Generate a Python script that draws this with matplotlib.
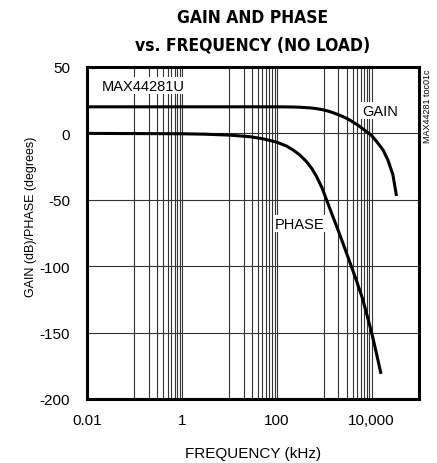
import matplotlib
matplotlib.use('Agg')
from matplotlib import pyplot as plt

plt.rcParams['font.family'] = ['Liberation Sans', 'DejaVu Sans']
plt.rcParams['axes.unicode_minus'] = False

gain_freq = [0.01, 100, 200, 300, 500, 700, 930, 1200, 1530, 2000, 2500, 3470, 5000,
             7800, 9800, 13000, 17400, 22000, 28000, 33000]
gain_db = [20, 20, 19.9, 19.7, 19.2, 18.6, 17.8, 16.8, 15.6, 14, 12.6, 10, 6.5,
           1.3, -1.3, -6.5, -12.5, -20, -31, -46]

phase_freq = [0.01, 1, 3, 10, 27, 50, 98, 160, 220, 300, 417, 550, 690, 900, 1120,
              1500, 1830, 2500, 3470, 4800, 6500, 8000, 10000, 12500, 15500]
phase_deg = [0, -0.3, -0.6, -1.3, -2.5, -4, -6.5, -9.5, -12.5, -16, -21, -26.5, -32.5, -41, -50,
             -62, -70, -83, -97, -111, -125, -137, -150, -165, -180]

xticks = [0.01, 1, 100, 10000]
xticklabels = ['0.01', '1', '100', '10,000']
yticks = [50, 0, -50, -100, -150, -200]

fig = plt.figure(figsize=(4.37, 4.64), dpi=100)
ax = fig.add_axes([0.199, 0.138, 0.760, 0.7155])

# grid: minor lines only in every other decade, like the datasheet plot
for base in [0.1, 10, 1000]:
    for m in range(1, 11):
        ax.axvline(base * m, color='#333333', lw=0.8, zorder=1)
for y in yticks:
    ax.axhline(y, color='#333333', lw=0.8, zorder=1)

ax.plot(gain_freq, gain_db, color='black', lw=2.2, zorder=3, solid_joinstyle='round')
ax.plot(phase_freq, phase_deg, color='black', lw=2.2, zorder=3, solid_joinstyle='round')

ax.set_xscale('log')
ax.set_xlim(0.01, 100000)
ax.set_ylim(-200, 50)
ax.set_xticks(xticks)
ax.set_xticklabels(xticklabels)
ax.minorticks_off()
ax.set_yticks(yticks)
ax.tick_params(length=0, labelsize=11)
ax.tick_params(axis='y', pad=12)
ax.tick_params(axis='x', pad=10)
for s in ax.spines.values():
    s.set_linewidth(2.2)

box = dict(facecolor='white', edgecolor='none', pad=1)
ax.text(0.15, 36, 'MAX44281U', fontsize=10.5, ha='center', va='center', bbox=box, zorder=4)
ax.text(14800, 17, 'GAIN', fontsize=10.5, ha='center', va='center', bbox=box, zorder=4)
ax.text(300, -68, 'PHASE', fontsize=10.5, ha='center', va='center', bbox=box, zorder=4)

ax.set_xlabel('FREQUENCY (kHz)', fontsize=11, labelpad=14)
ax.set_ylabel('GAIN (dB)/PHASE (degrees)', fontsize=9)
ax.yaxis.set_label_coords(-0.15, 0.551)

fig.text(0.978, 0.85, 'MAX44281 toc01c', rotation=90, fontsize=6.5, ha='center', va='top')

title_font = ['DejaVu Sans']
fig.text(0.577, 0.961, 'GAIN AND PHASE', fontsize=12.5, fontweight='bold',
         fontstretch='condensed', family=title_font, ha='center', va='center')
fig.text(0.577, 0.903, 'vs. FREQUENCY (NO LOAD)', fontsize=12.5, fontweight='bold',
         fontstretch='condensed', family=title_font, ha='center', va='center')

fig.savefig('out.png', dpi=100)
